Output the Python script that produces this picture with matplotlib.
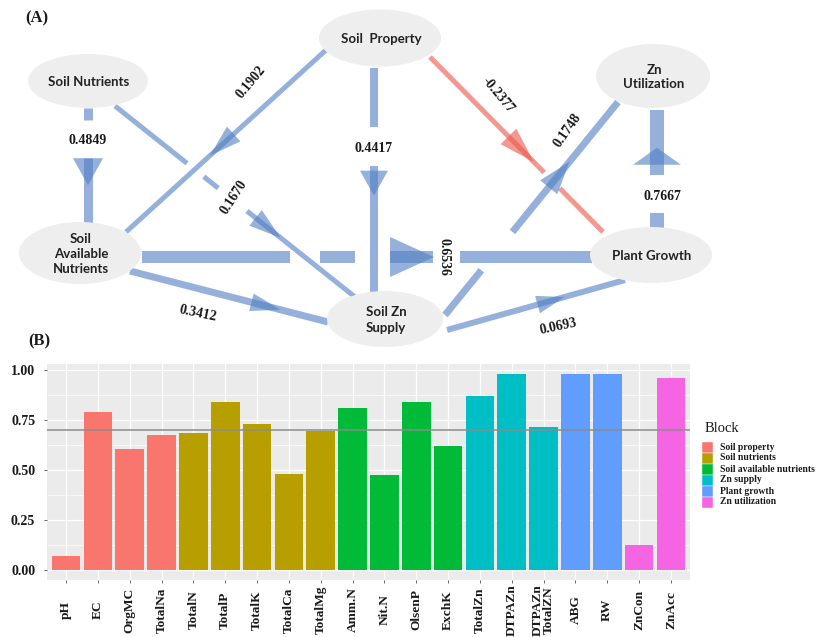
import matplotlib
matplotlib.use('Agg')
import matplotlib.pyplot as plt
from matplotlib.patches import Ellipse, Polygon, Rectangle
from matplotlib.transforms import blended_transform_factory
import numpy as np

# ---------------- (B) block loadings ----------------
variables = ['pH', 'EC', 'OrgMC', 'TotalNa',
             'TotalN', 'TotalP', 'TotalK', 'TotalCa', 'TotalMg',
             'Amm.N', 'Nit.N', 'OlsenP', 'ExchK',
             'TotalZn', 'DTPAZn', 'DTPAZn\nTotalZN',
             'ABG', 'RW',
             'ZnCon', 'ZnAcc']
loadings = [0.073, 0.790, 0.606, 0.676,
            0.686, 0.840, 0.730, 0.483, 0.695,
            0.812, 0.475, 0.842, 0.618,
            0.869, 0.980, 0.717,
            0.980, 0.978,
            0.128, 0.959]
blocks = ['Soil property', 'Soil nutrients', 'Soil available nutrients',
          'Zn supply', 'Plant growth', 'Zn utilization']
block_sizes = [4, 5, 4, 3, 2, 2]
block_colors = ['#F8766D', '#B79F00', '#00BA38', '#00BFC4', '#619CFF', '#F564E3']
threshold = 0.7

# ---------------- (A) path model ----------------
node_names = ['Soil Nutrients', 'Soil  Property', 'Zn\nUtilization',
              'Soil\nAvailable\nNutrients', 'Plant Growth', 'Soil Zn\nSupply']
path_from = [0, 0, 1, 1, 1, 5, 4, 3, 3, 5]
path_to = [3, 5, 3, 5, 4, 2, 2, 4, 5, 4]
path_coef = [0.4849, 0.1670, 0.1902, 0.4417, -0.2377, 0.1748, 0.7667, 0.6536, 0.3412, 0.0693]

# node ellipses in pixel space: centre, width, height
node_xy = [(88, 81), (380, 38), (653, 76), (80, 253), (651, 255), (385, 319)]
node_wh = [(120, 54), (122, 57), (114, 64), (122, 62), (122, 56), (116, 56)]

# edge drawing: start, end, width(px), visible segments, arrow tip, head length, head half width,
# label position, label rotation
edge_geom = [
    ((88, 108), (88, 225), 9, [(0, 0.10), (0.43, 1)], 0.66, 27, 15, (88, 140), 0),
    ((115, 106), (355, 297), 5, [(0, 0.30), (0.37, 0.43), (0.55, 1)], 0.69, 32, 10, (234, 197), 57),
    ((326, 50), (126, 232), 5, [(0, 1)], 0.58, 32, 10, (251, 82), 50),
    ((374, 68), (374, 296), 8, [(0, 0.26), (0.43, 1)], 0.56, 25, 14, (374, 148), 0),
    ((430, 57), (603, 232), 5, [(0, 0.66), (0.75, 1)], 0.60, 36, 11, (498, 95), -50),
    ((445, 315), (618, 102), 7, [(0, 0.21), (0.39, 1)], 0.72, 33, 11, (568, 130), 55),
    ((657, 228), (657, 110), 14, [(0, 0.13), (0.45, 1)], 0.68, 17, 24, (662, 197), 0),
    ((142, 257), (592, 257), 12, [(0, 0.33), (0.396, 0.473), (0.551, 0.647), (0.707, 1)],
     0.649, 44, 20, (444, 257), -90),
    ((130, 271), (328, 322), 7, [(0, 1)], 0.76, 30, 9, (198, 314), -12),
    ((447, 330), (625, 280), 6, [(0, 1)], 0.66, 28, 9, (558, 327), 12),
]

PX = 0.72  # points per pixel at dpi 100
blue = (0.33, 0.50, 0.77)
red = (0.93, 0.35, 0.30)
serif_bold = dict(family='Liberation Serif', weight='bold')

fig = plt.figure(figsize=(8.17, 6.37), dpi=100)

# ---- bar panel
ax = fig.add_axes([47 / 817, 57 / 637, 643 / 817, 216 / 637])
ax.set_facecolor('#EBEBEB')
bar_colors = []
for c, n in zip(block_colors, block_sizes):
    bar_colors += [c] * n
x = np.arange(len(variables))
ax.bar(x, loadings, width=0.9, color=bar_colors, zorder=3)
ax.axhline(threshold, color='#8C8C8C', lw=1.1, zorder=4)
ax.set_xlim(-0.6, len(variables) - 0.4)
ax.set_ylim(-0.049, 1.03)
ax.set_yticks([0, 0.25, 0.5, 0.75, 1.0])
ax.set_yticklabels(['0.00', '0.25', '0.50', '0.75', '1.00'], fontsize=10, color='#1A1A1A',
                   **serif_bold)
ax.set_yticks([0.125, 0.375, 0.625, 0.875], minor=True)
ax.set_xticks(x)
ax.set_xticklabels([])
ax.grid(True, which='major', color='white', lw=0.9, zorder=0)
ax.grid(True, which='minor', axis='y', color='white', lw=0.45, zorder=0)
ax.tick_params(axis='both', which='major', length=2.5, width=0.6, color='#4D4D4D', pad=6)
ax.tick_params(axis='y', which='minor', length=0)
for s in ax.spines.values():
    s.set_visible(False)
trans = blended_transform_factory(ax.transData, fig.transFigure)
for i, lbl in enumerate(variables):
    ax.text(i, (637 - 610) / 637, lbl, transform=trans, rotation=90, ha='center', va='center',
            fontsize=9.6, color='#1A1A1A', linespacing=0.85, clip_on=False, **serif_bold)

# ---- overlay in pixel coordinates for the path diagram, labels and legend
ov = fig.add_axes([0, 0, 1, 1])
ov.set_xlim(0, 817)
ov.set_ylim(637, 0)
ov.axis('off')
ov.patch.set_alpha(0)

for k, coef in enumerate(path_coef):
    (x0, y0), (x1, y1), w, segs, tip, hl, hw, (lx, ly), rot = edge_geom[k]
    col = red if coef < 0 else blue
    p0 = np.array([x0, y0], float)
    d = np.array([x1 - x0, y1 - y0], float)
    for f0, f1 in segs:
        a, b = p0 + f0 * d, p0 + f1 * d
        ov.plot([a[0], b[0]], [a[1], b[1]], color=col, alpha=0.62, lw=w * PX,
                solid_capstyle='butt', zorder=2)
    u = d / np.hypot(*d)
    nrm = np.array([-u[1], u[0]])
    t = p0 + tip * d
    base = t - hl * u
    ov.add_patch(Polygon([t, base + hw * nrm, base - hw * nrm], closed=True,
                         facecolor=col, edgecolor='none', alpha=0.62, zorder=2))
    ov.text(lx, ly, f'{coef:.4f}', rotation=rot, ha='center', va='center',
            fontsize=10, color='#1A1A1A', zorder=5, rotation_mode='anchor', **serif_bold)

for name, (cx, cy), (w, h) in zip(node_names, node_xy, node_wh):
    ov.add_patch(Ellipse((cx, cy), w, h, facecolor='#EEEEEE', edgecolor='none', zorder=3))
    ov.text(cx + 1, cy + 1, name, ha='center', va='center', fontsize=9.5, family='Lato',
            weight='bold', color='#222222', linespacing=1.3, zorder=4)

ov.text(37, 18, '(A)', ha='center', va='center', fontsize=12, color='#1A1A1A', **serif_bold)
ov.text(39, 341, '(B)', ha='center', va='center', fontsize=12, color='#1A1A1A', **serif_bold)

# legend
ov.text(705, 428, 'Block', ha='left', va='center', fontsize=10.5, family='Liberation Serif',
        color='#1A1A1A')
for i, (b, c) in enumerate(zip(blocks, block_colors)):
    yc = 447 + 11 * i
    ov.add_patch(Rectangle((702, yc - 5.5), 11, 11, facecolor=c, edgecolor='white', lw=0.3))
    ov.text(720, yc, b, ha='left', va='center', fontsize=6.9, color='#1A1A1A', **serif_bold)

fig.savefig('out.png', dpi=100)
